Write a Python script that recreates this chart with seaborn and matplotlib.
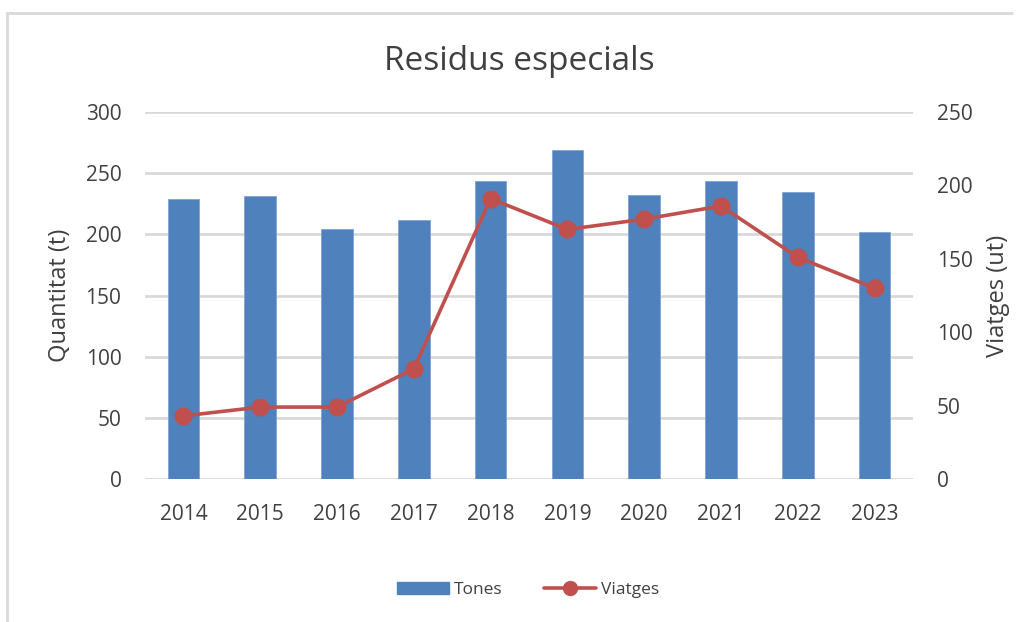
import numpy as np
import pandas as pd
import matplotlib
matplotlib.use("Agg")
import matplotlib.pyplot as plt
import matplotlib.lines as mlines
import matplotlib.patches as mpatches
import seaborn as sns

years = ["2014", "2015", "2016", "2017", "2018", "2019", "2020", "2021", "2022", "2023"]
tones = [229, 231, 204, 212, 244, 269, 232, 244, 235, 202]
viatges = [43, 49, 49, 75, 191, 170, 177, 186, 151, 130]

df = pd.DataFrame({"any": years, "tones": tones, "viatges": viatges})

sns.set_style("white")
plt.rcParams["font.family"] = ["Open Sans", "DejaVu Sans"]

blue = "#4F81BD"
red = "#C0504D"
txt = "#404040"
grid = "#D9D9D9"

fig = plt.figure(figsize=(10.21, 6.22), dpi=100)
ax = fig.add_axes([145 / 1021, 1 - 479 / 622, 768 / 1021, 367 / 622])

sns.barplot(data=df, x="any", y="tones", color=blue, width=0.41, ax=ax,
            saturation=1, edgecolor="#7FA3D3", linewidth=0.6, zorder=2)
ax.set_ylim(0, 300)
ax.set_yticks(np.arange(0, 301, 50))
ax.yaxis.grid(True, color=grid, linewidth=2, zorder=0)
ax.set_axisbelow(True)
ax.set_xlabel("")
ax.set_ylabel("Quantitat (t)", fontsize=17, color=txt, labelpad=10)
ax.tick_params(axis="both", length=0, labelsize=15, labelcolor=txt)
ax.tick_params(axis="y", pad=17)
ax.tick_params(axis="x", pad=18)
for s in ax.spines.values():
    s.set_visible(False)

ax2 = ax.twinx()
sns.pointplot(data=df, x="any", y="viatges", color=red, ax=ax2,
              markers="o", markersize=11, linewidth=2.6)
ax2.set_ylim(0, 250)
ax2.set_yticks(np.arange(0, 251, 50))
ax2.set_ylabel("Viatges (ut)", fontsize=17, color=txt, labelpad=10)
ax2.tick_params(axis="y", length=0, labelsize=15, labelcolor=txt, pad=17)
ax2.set_xlim(-0.5, len(years) - 0.5)
ax.set_xlim(-0.5, len(years) - 0.5)
for s in ax2.spines.values():
    s.set_visible(False)

fig.text(519 / 1021, 1 - 62 / 622, "Residus especials", ha="center", va="center",
         fontsize=24, color=txt)

h1 = mpatches.Patch(color=blue, label="Tones")
h2 = mlines.Line2D([], [], color=red, marker="o", markersize=10, linewidth=2.6, label="Viatges")
fig.legend(handles=[h1, h2], loc="center", bbox_to_anchor=(528 / 1021, 1 - 590 / 622),
           ncol=2, frameon=False, fontsize=12.5, labelcolor=txt,
           handlelength=3.0, columnspacing=2.4, handletextpad=0.3)

# chart border (left and top edges visible in the reference)
fig.add_artist(mlines.Line2D([7 / 1021, 7 / 1021], [0, 1 - 13 / 622], color=grid, linewidth=2,
                             transform=fig.transFigure))
fig.add_artist(mlines.Line2D([7 / 1021, 1012 / 1021], [1 - 13 / 622, 1 - 13 / 622], color=grid,
                             linewidth=2, transform=fig.transFigure))

fig.savefig("out.png", dpi=100)
